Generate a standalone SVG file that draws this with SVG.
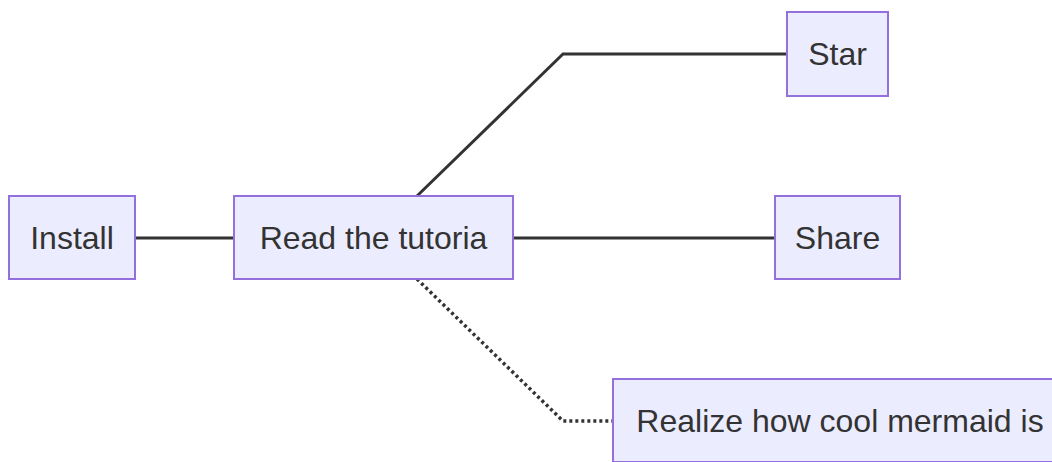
<svg xmlns="http://www.w3.org/2000/svg" width="1052" height="462" viewBox="0 0 1052 462">
<style>
.node rect{fill:#ECECFF;stroke:#9370DB;stroke-width:2}
.node text{font-family:"Liberation Sans",Arial,sans-serif;font-size:32px;fill:#333;text-anchor:middle}
.edge{fill:none;stroke:#333;stroke-width:3}
.dotted{stroke-dasharray:3 3;stroke-width:3.5}
</style>
<rect width="1052" height="462" fill="#fff"/>
<g id="connectors">
<path class="edge" d="M135,238 L234,238"/>
<path class="edge" d="M417,196 L563,54 L787,54"/>
<path class="edge" d="M513,238 L775,238"/>
<path class="edge dotted" d="M417,279 L563,421 L613,421"/>
</g>
<g id="install" class="node"><rect x="9" y="196" width="126" height="83"/><text x="72" y="249">Install</text></g>
<g id="read" class="node"><rect x="234" y="196" width="279" height="83"/><text x="373.5" y="249">Read the tutoria</text></g>
<g id="star" class="node"><rect x="787" y="12" width="101" height="84"/><text x="837.5" y="65">Star</text></g>
<g id="share" class="node"><rect x="775" y="196" width="125" height="83"/><text x="837.5" y="249">Share</text></g>
<g id="realize" class="node"><rect x="613" y="379" width="458" height="83"/><text x="840" y="432">Realize how cool mermaid is</text></g>
</svg>
